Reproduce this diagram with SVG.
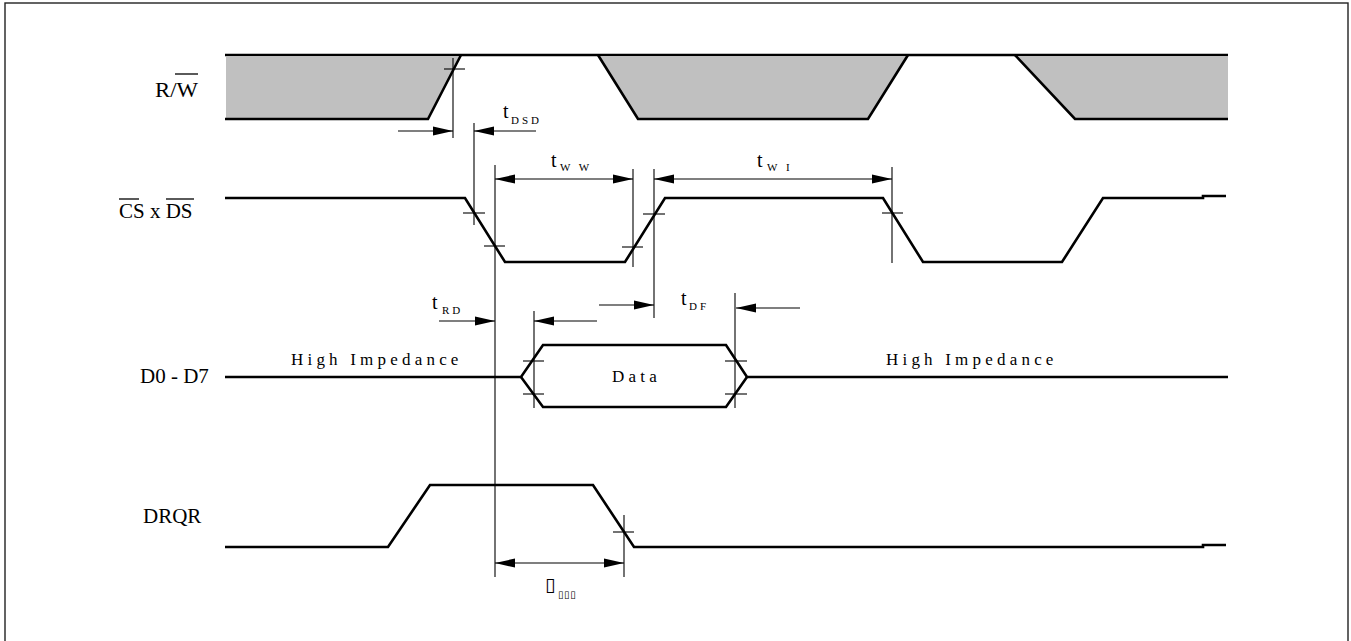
<svg xmlns="http://www.w3.org/2000/svg" width="1351" height="641" viewBox="0 0 1351 641">
<style>
.sig{fill:none;stroke:#000;stroke-width:2.6;stroke-linejoin:miter}
.dim{fill:none;stroke:#000;stroke-width:1.1}
.gray{fill:#c0c0c0;stroke:none}
.lbl{font-family:"Liberation Serif",serif;font-size:21px;fill:#000}
.t{font-family:"Liberation Serif",serif;font-size:20px;fill:#000}
.sub{font-family:"Liberation Serif",serif;font-size:11px;letter-spacing:3px;fill:#000}
.hz{font-family:"Liberation Serif",serif;font-size:17px;letter-spacing:4.2px;fill:#000}
.ov{stroke:#000;stroke-width:1.3}
.box{font-family:"DejaVu Sans",sans-serif;fill:#000}
</style>
<defs>
<marker id="ah" markerUnits="userSpaceOnUse" markerWidth="20" markerHeight="10" refX="20" refY="5" orient="auto-start-reverse" viewBox="0 0 20 10">
<path d="M0,0.5 L20,5 L0,9.5 z" fill="#000"/>
</marker>
</defs>
<rect x="5" y="3" width="1343" height="640" fill="#fff" stroke="#222" stroke-width="1.4"/>

<g id="labels">
<text class="lbl" x="155" y="97" font-size="24" textLength="43" lengthAdjust="spacingAndGlyphs">R/W</text>
<line class="ov" x1="175" y1="74" x2="198" y2="74"/>
<text class="lbl" x="119" y="218">CS x DS</text>
<line class="ov" x1="119" y1="199" x2="139" y2="199"/>
<line class="ov" x1="166" y1="199" x2="194" y2="199"/>
<text class="lbl" x="140" y="383">D0 - D7</text>
<text class="lbl" x="143" y="523">DRQR</text>
</g>

<g id="rw">
<polygon class="gray" points="226,57 459,57 428,118 226,118"/>
<polygon class="gray" points="599,57 907,57 868,118 638,118"/>
<polygon class="gray" points="1016,57 1228,57 1228,118 1074,118"/>
<polyline class="sig" points="225,55 1228,55"/>
<polyline class="sig" points="225,119 428,119 461,55"/>
<polyline class="sig" points="598,55 638,119 868,119 908,55"/>
<polyline class="sig" points="1015,55 1075,119 1228,119"/>
</g>

<g id="csds">
<polyline class="sig" points="225,198 465,198 505,262 625,262 665,198 883,198 923,262 1062,262 1103,198 1203,198 1203,196 1226,196"/>
</g>

<g id="data">
<polyline class="sig" points="225,377 521,377 543,345 726,345 747,377 1228,377"/>
<polyline class="sig" points="521,377 543,407 726,407 747,377"/>
<text class="hz" x="291" y="365">High Impedance</text>
<text class="hz" x="886" y="365">High Impedance</text>
<text class="hz" x="612" y="382">Data</text>
</g>

<g id="drqr">
<polyline class="sig" points="225,547 388,547 430,485 593,485 634,547 1203,547 1203,545 1226,545"/>
</g>

<g id="connectors">
<line class="dim" x1="453" y1="58" x2="453" y2="138"/>
<line class="dim" x1="474" y1="123" x2="474" y2="225"/>
<line class="dim" x1="495" y1="165" x2="495" y2="577"/>
<line class="dim" x1="633" y1="169" x2="633" y2="267"/>
<line class="dim" x1="654" y1="169" x2="654" y2="318"/>
<line class="dim" x1="892" y1="167" x2="892" y2="263"/>
<line class="dim" x1="534" y1="311" x2="534" y2="408"/>
<line class="dim" x1="735" y1="293" x2="735" y2="408"/>
<line class="dim" x1="624" y1="515" x2="624" y2="577"/>
<line class="dim" x1="444" y1="69" x2="465" y2="69"/>
<line class="dim" x1="463" y1="213" x2="485" y2="213"/>
<line class="dim" x1="484" y1="246" x2="505" y2="246"/>
<line class="dim" x1="622" y1="247" x2="643" y2="247"/>
<line class="dim" x1="643" y1="214" x2="665" y2="214"/>
<line class="dim" x1="882" y1="213" x2="903" y2="213"/>
<line class="dim" x1="523" y1="361" x2="544" y2="361"/>
<line class="dim" x1="523" y1="394" x2="544" y2="394"/>
<line class="dim" x1="725" y1="361" x2="747" y2="361"/>
<line class="dim" x1="725" y1="394" x2="747" y2="394"/>
<line class="dim" x1="613" y1="532" x2="634" y2="532"/>
<line class="dim" x1="398" y1="131" x2="453" y2="131" marker-end="url(#ah)"/>
<line class="dim" x1="536" y1="131" x2="474" y2="131" marker-end="url(#ah)"/>
<line class="dim" x1="495" y1="179" x2="633" y2="179" marker-start="url(#ah)" marker-end="url(#ah)"/>
<line class="dim" x1="654" y1="179" x2="892" y2="179" marker-start="url(#ah)" marker-end="url(#ah)"/>
<line class="dim" x1="439" y1="321" x2="495" y2="321" marker-end="url(#ah)"/>
<line class="dim" x1="597" y1="321" x2="534" y2="321" marker-end="url(#ah)"/>
<line class="dim" x1="599" y1="305" x2="654" y2="305" marker-end="url(#ah)"/>
<line class="dim" x1="800" y1="308" x2="736" y2="308" marker-end="url(#ah)"/>
<line class="dim" x1="495" y1="563" x2="624" y2="563" marker-start="url(#ah)" marker-end="url(#ah)"/>
</g>

<g id="timing-labels">
<text class="t" x="503" y="118">t</text><text class="sub" x="511" y="124">DSD</text>
<text class="t" x="551" y="167">t</text><text class="sub" x="560" y="171">W W</text>
<text class="t" x="757" y="167">t</text><text class="sub" x="767" y="171">W I</text>
<text class="t" x="432" y="309">t</text><text class="sub" x="442" y="314">RD</text>
<text class="t" x="681" y="305">t</text><text class="sub" x="689" y="310">DF</text>
<text class="box" x="545" y="591" font-size="19" fill="#000">▯</text><text class="box" x="558" y="598" font-size="10" letter-spacing="0.6" fill="#000">▯▯▯</text>
</g>
</svg>
